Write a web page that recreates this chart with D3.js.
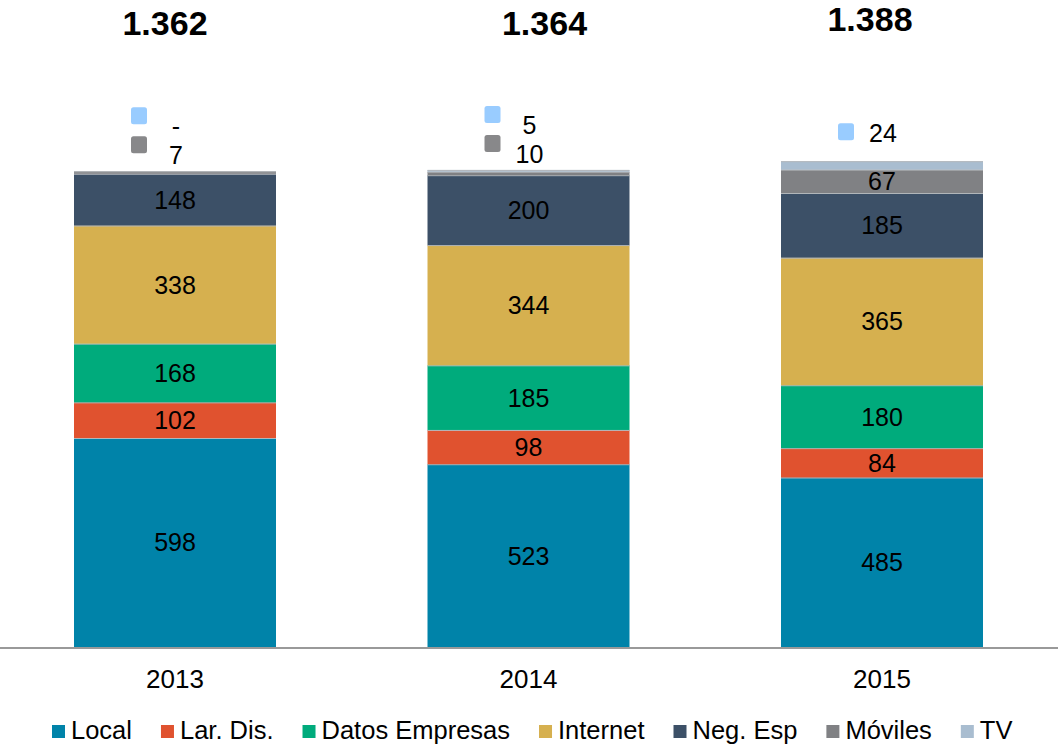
<!DOCTYPE html>
<html>
<head>
<meta charset="utf-8">
<script src="https://cdn.jsdelivr.net/npm/d3@7"></script>
<style>
  body { margin: 0; background: #fff; }
  svg { display: block; font-family: "Liberation Sans", Arial, sans-serif; }
</style>
</head>
<body>
<svg id="chart" width="1058" height="745"></svg>
<script>
// data
var years = ["2013", "2014", "2015"];
var series = ["Local", "Lar. Dis.", "Datos Empresas", "Internet", "Neg. Esp", "Móviles", "TV"];
var local = [598, 523, 485];
var larDis = [102, 98, 84];
var datos = [168, 185, 180];
var internet = [338, 344, 365];
var negEsp = [148, 200, 185];
var moviles = [7, 10, 67];
var tv = [0, 5, 24];
var totals = [1362, 1364, 1388];

var colors = ["#0083a9", "#e0522f", "#00ab7c", "#d6b04f", "#3c5067", "#808184", "#a9bdd0"];
// colours of the little markers used for the small segments
var markerColors = { "Móviles": "#88888a", "TV": "#99ccff" };
// the totals are not quite centred over the bars in the original
var totalNudge = [-10, 16, -12];

var values = [local, larDis, datos, internet, negEsp, moviles, tv];
var table = years.map(function(y, i) {
  var row = { year: y };
  series.forEach(function(s, k) { row[s] = values[k][i]; });
  return row;
});

var svg = d3.select("#chart");
var width = 1058, height = 745;
var baseY = 647;

var x = d3.scaleBand()
  .domain(years)
  .range([-1.75, 1058.75])
  .paddingInner(0.4286)
  .paddingOuter(0.2143);

var y = d3.scaleLinear()
  .domain([0, 1400])
  .range([baseY, baseY - 1400 * 0.3495]);

var stacked = d3.stack().keys(series)(table);

var fmt = d3.formatLocale({ decimal: ",", thousands: ".", grouping: [3], currency: ["", ""] }).format(",");

// bars
var layer = svg.append("g").selectAll("g")
  .data(stacked)
  .enter().append("g")
    .attr("fill", function(d, i) { return colors[i]; });

layer.selectAll("rect")
  .data(function(d) { return d; })
  .enter().append("rect")
    .attr("x", function(d) { return x(d.data.year); })
    .attr("y", function(d) { return y(d[1]); })
    .attr("width", x.bandwidth())
    .attr("height", function(d) { return y(d[0]) - y(d[1]); });

// thin separators on top of each segment
layer.selectAll("line")
  .data(function(d) { return d.filter(function(p) { return p[1] > p[0]; }); })
  .enter().append("line")
    .attr("x1", function(d) { return x(d.data.year); })
    .attr("x2", function(d) { return x(d.data.year) + x.bandwidth(); })
    .attr("y1", function(d) { return y(d[1]) + 0.5; })
    .attr("y2", function(d) { return y(d[1]) + 0.5; })
    .attr("stroke", "#b4b8bc")
    .attr("stroke-width", 1);

// labels inside the bigger segments
svg.append("g").selectAll("g")
  .data(stacked)
  .enter().append("g")
  .selectAll("text")
  .data(function(d) { return d.filter(function(p) { return p[1] - p[0] >= 30; }); })
  .enter().append("text")
    .attr("x", function(d) { return x(d.data.year) + x.bandwidth() / 2; })
    .attr("y", function(d) { return (y(d[0]) + y(d[1])) / 2; })
    .attr("dy", "0.36em")
    .attr("text-anchor", "middle")
    .attr("font-size", 25)
    .attr("fill", "#000")
    .text(function(d) { return fmt(d[1] - d[0]); });

// small segments get a marker + label above the bar
years.forEach(function(yr, i) {
  var cx = x(yr) + x.bandwidth() / 2;
  var top = y(d3.sum(values, function(v) { return v[i]; }));
  var smalls = series.filter(function(s, k) { return values[k][i] < 30; });
  var textShift = smalls.length > 1 ? 11 : 2;
  var rowBase = smalls.length > 1 ? top - 27 : top - 30;
  smalls.forEach(function(s, j) {
    var k = series.indexOf(s);
    var rowY = rowBase - j * 29;
    svg.append("rect")
      .attr("x", cx - 44)
      .attr("y", rowY - 8)
      .attr("width", 16)
      .attr("height", 17)
      .attr("rx", 2.5)
      .attr("fill", markerColors[s]);
    svg.append("text")
      .attr("x", cx + 1)
      .attr("y", rowY + textShift)
      .attr("dy", "0.36em")
      .attr("text-anchor", "middle")
      .attr("font-size", 25)
      .text(values[k][i] === 0 ? "-" : fmt(values[k][i]));
  });

  // total on top
  svg.append("text")
    .attr("x", cx + totalNudge[i])
    .attr("y", 35 - (171 - top) * 0.4)
    .attr("text-anchor", "middle")
    .attr("font-size", 34)
    .attr("font-weight", "bold")
    .text(fmt(totals[i]).replace(/(\d)(\d{3})$/, "$1.$2"));
});

// axis line and year labels
svg.append("line")
  .attr("x1", 0).attr("x2", width)
  .attr("y1", baseY + 1).attr("y2", baseY + 1)
  .attr("stroke", "#999")
  .attr("stroke-width", 2);

svg.append("g")
  .attr("transform", "translate(0," + baseY + ")")
  .call(d3.axisBottom(x).tickSize(0).tickPadding(0))
  .call(function(g) { g.select(".domain").remove(); })
  .selectAll("text")
    .attr("y", 41)
    .attr("dy", 0)
    .attr("font-size", 26)
    .attr("font-family", "Liberation Sans, Arial, sans-serif")
    .attr("fill", "#000");

// legend
var legend = svg.append("g");
var lx = 52;
series.forEach(function(s, i) {
  legend.append("rect")
    .attr("x", lx).attr("y", 725)
    .attr("width", 13).attr("height", 13)
    .attr("fill", colors[i]);
  var t = legend.append("text")
    .attr("x", lx + 19).attr("y", 739)
    .attr("font-size", 25.5)
    .text(s);
  lx += 19 + t.node().getComputedTextLength() + 29;
});
</script>
</body>
</html>
